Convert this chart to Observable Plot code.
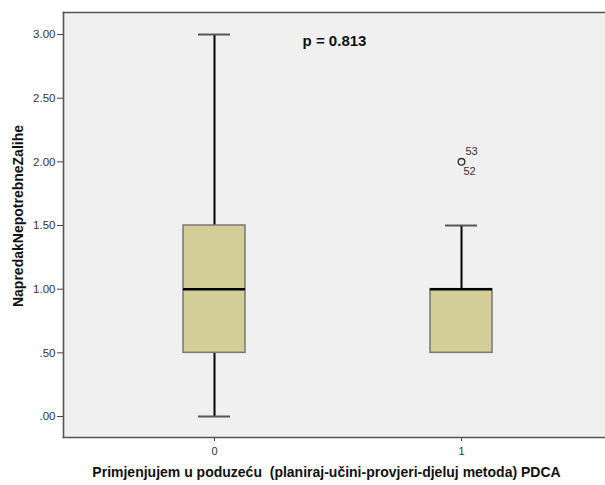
<!DOCTYPE html>
<html>
<head>
<meta charset="utf-8">
<script src="https://cdn.jsdelivr.net/npm/d3@7"></script>
<script src="https://cdn.jsdelivr.net/npm/@observablehq/plot@0.6"></script>
<style>
  html, body { margin: 0; padding: 0; background: #ffffff; }
  #chart svg { display: block; }
</style>
</head>
<body>
<div id="chart"></div>
<script>
// ---- data ----
const groups = ["0", "1"];
const whiskerLow = [0.0, 0.5];
const q1 = [0.5, 0.5];
const medians = [1.0, 1.0];
const q3 = [1.5, 1.0];
const whiskerHigh = [3.0, 1.5];

const outlierGroups = ["1", "1"];
const outlierValues = [2.0, 2.0];
const outlierIds = ["53", "52"];

const yTicks = [0, 0.5, 1, 1.5, 2, 2.5, 3];
const xTitle = "Primjenjujem u poduzeću\u00a0 (planiraj-učini-provjeri-djeluj metoda) PDCA";
const yTitle = "NapredakNepotrebneZalihe";
const pLabel = "p = 0.813";

// ---- tables built from the arrays ----
const boxes = groups.map((g, i) => ({
  group: g, lo: whiskerLow[i], q1: q1[i], med: medians[i], q3: q3[i], hi: whiskerHigh[i]
}));
// caps that coincide with a box edge are hidden by the box, as in the original
const caps = boxes.flatMap(b => [{group: b.group, v: b.lo, hidden: b.lo === b.q1}, {group: b.group, v: b.hi, hidden: b.hi === b.q3}]);
const outliers = outlierIds.map((id, i) => ({group: outlierGroups[i], value: outlierValues[i], id}));

const font = "'Liberation Sans', Arial, sans-serif";
const fmt = v => d3.format(".2f")(v).replace(/^0\./, ".");

const chart = Plot.plot({
  width: 605,
  height: 485,
  marginLeft: 63,
  marginRight: 0,
  marginTop: 12,
  marginBottom: 48,
  style: {fontFamily: font, background: "#ffffff", color: "#333"},
  x: {type: "band", domain: groups, paddingInner: 0.7495, paddingOuter: 0.47, align: 0.514},
  y: {domain: [-0.165, 3.173]},
  marks: [
    Plot.frame({fill: "#f0f0f0", stroke: null}),
    Plot.axisY({ticks: yTicks, tickFormat: fmt, tickSize: 6, tickPadding: 2, fontSize: 11.5, stroke: "#444", fill: "#333", label: null}),
    Plot.axisX({tickSize: 4, tickFormat: () => "", stroke: "#444", label: null}),
    Plot.text(groups, {x: d => d, frameAnchor: "bottom", lineAnchor: "middle", dy: 14, fontSize: 11, fill: "#333"}),
    // whiskers
    Plot.ruleX(boxes, {x: "group", y1: "lo", y2: "hi", stroke: "#000", strokeWidth: 2}),
    // caps
    Plot.tickY(caps.filter(d => !d.hidden), {x: "group", y: "v", stroke: "#555", strokeWidth: 2, insetLeft: 15, insetRight: 15}),
    // boxes
    Plot.barY(boxes, {x: "group", y1: "q1", y2: "q3", fill: "#d3ce97", stroke: "#777", strokeWidth: 1.5}),
    // medians
    Plot.tickY(boxes, {x: "group", y: "med", stroke: "#000", strokeWidth: 2.5}),
    // outliers
    Plot.dot(outliers.slice(0, 1), {x: "group", y: "value", r: 3.3, stroke: "#333", strokeWidth: 1.4, fill: "none"}),
    Plot.text(outliers.filter(d => d.id === "53"), {x: "group", y: "value", text: "id", textAnchor: "start", dx: 4, dy: -10, fontSize: 11, fill: "#333"}),
    Plot.text(outliers.filter(d => d.id === "52"), {x: "group", y: "value", text: "id", textAnchor: "start", dx: 2, dy: 10, fontSize: 11, fill: "#333"}),
    // frame lines (left, top, bottom)
    Plot.frame({anchor: "left", stroke: "#555", strokeWidth: 1.6}),
    Plot.frame({anchor: "top", stroke: "#555", strokeWidth: 1.6}),
    Plot.frame({anchor: "bottom", stroke: "#555", strokeWidth: 1.6}),
    // annotations and titles
    Plot.text([pLabel], {frameAnchor: "top", lineAnchor: "middle", dy: 29, fontSize: 15, fontWeight: "bold", fill: "#111"}),
    Plot.text([xTitle], {frameAnchor: "bottom", lineAnchor: "middle", textAnchor: "middle", dy: 35, dx: -8, fontSize: 14, letterSpacing: "0.1px", fontWeight: "bold", fill: "#111"}),
    Plot.text([yTitle], {frameAnchor: "left", lineAnchor: "middle", textAnchor: "middle", dx: -45, dy: -9, rotate: -90, fontSize: 14, letterSpacing: "0.5px", fontWeight: "bold", fill: "#111"})
  ]
});
document.getElementById("chart").appendChild(chart);
</script>
</body>
</html>
